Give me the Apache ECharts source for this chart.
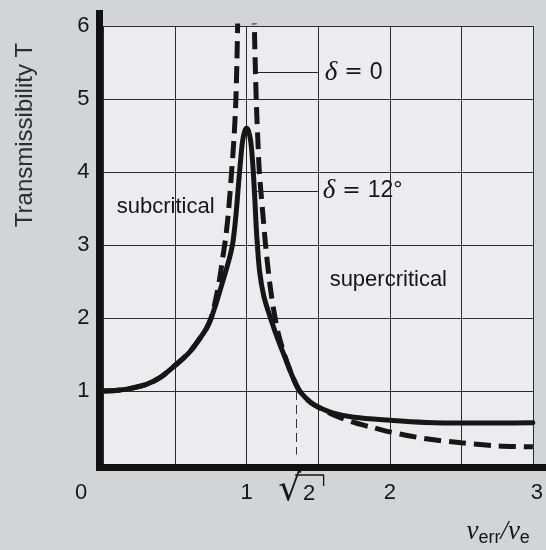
<!DOCTYPE html>
<html>
<head>
<meta charset="utf-8">
<script src="https://cdn.jsdelivr.net/npm/echarts@6/dist/echarts.min.js"></script>
<style>
html, body { margin: 0; padding: 0; background: #d3d4d6; }
#main { width: 546px; height: 550px; }
</style>
</head>
<body>
<div id="main"></div>
<script>
let log = console.log.bind(console)

// 坐标轴
const xMax = 3
const yMax = 6
const xStep = 0.5
const yStep = 1

// δ = 12° (实线)
const solidX = [0, 0.1, 0.2, 0.3, 0.4, 0.5, 0.6, 0.68, 0.72, 0.752, 0.79, 0.836, 0.88, 0.905, 0.925, 0.942, 0.955, 0.97, 0.985, 1.0,
    1.015, 1.03, 1.045, 1.058, 1.07, 1.09, 1.12, 1.17, 1.22, 1.27, 1.32, 1.364, 1.41, 1.45, 1.5, 1.6, 1.75, 2.0, 2.25, 2.5, 2.75, 3.0]
const solidT = [1.0, 1.01, 1.04, 1.09, 1.19, 1.35, 1.53, 1.74, 1.86, 2.0, 2.22, 2.52, 2.82, 3.05, 3.4, 3.8, 4.1, 4.4, 4.55, 4.6,
    4.55, 4.4, 4.05, 3.6, 3.15, 2.65, 2.3, 1.98, 1.7, 1.45, 1.2, 1.02, 0.91, 0.84, 0.78, 0.7, 0.64, 0.6, 0.57, 0.56, 0.56, 0.565]

// δ = 0 (虚线), 左右两支
const dashLeftX = [0, 0.1, 0.2, 0.3, 0.4, 0.5, 0.6, 0.68, 0.72, 0.752, 0.78, 0.81, 0.835, 0.855, 0.875, 0.895, 0.913, 0.925, 0.932, 0.937, 0.941]
const dashLeftT = [1.0, 1.01, 1.04, 1.09, 1.19, 1.35, 1.53, 1.74, 1.86, 2.0, 2.22, 2.52, 2.85, 3.12, 3.5, 4.0, 4.5, 5.0, 5.5, 6.0, 6.6]
const dashRightX = [1.05, 1.054, 1.06, 1.067, 1.077, 1.089, 1.11, 1.13, 1.16, 1.19, 1.22, 1.26, 1.31, 1.364, 1.41, 1.45, 1.5, 1.6, 1.73, 1.88, 2.0, 2.24, 2.5, 2.74, 3.0]
const dashRightT = [6.6, 6.0, 5.5, 5.0, 4.5, 4.0, 3.5, 3.05, 2.5, 2.1, 1.8, 1.52, 1.25, 1.02, 0.91, 0.84, 0.78, 0.68, 0.58, 0.5, 0.44, 0.35, 0.29, 0.25, 0.235]

// 标注
const sqrt2X = 1.35
const sqrt2T = [1, 0.13]
const rootBar = [[1.339, -0.151], [1.538, -0.151], [1.538, -0.3]]
const leaderZero = [[1.063, 5.36], [1.497, 5.36]]
const leaderTwelve = [[1.056, 3.74], [1.497, 3.74]]
const regionNames = ['subcritical', 'supercritical']
const regionPos = [[0.434, 3.52], [1.99, 2.52]]

let zip = function(xs, ys) {
    return xs.map((x, i) => [x, ys[i]])
}

let ink = '#161616'
let sans = 'Liberation Sans'
let deltaRich = {
    d: { fontFamily: 'Liberation Serif', fontStyle: 'italic', fontSize: 27, color: ink },
    e: { fontFamily: 'DejaVu Sans', fontSize: 22, color: ink },
    t: { fontFamily: sans, fontSize: 23, color: ink },
}

let myChart = echarts.init(document.getElementById('main'))

let option = {
    backgroundColor: '#d3d4d6',
    animation: false,
    grid: {
        left: 103.5, right: 7.5, top: 26, bottom: 86,
        show: true, backgroundColor: '#ececee', borderWidth: 0,
    },
    xAxis: {
        type: 'value', min: 0, max: xMax, interval: xStep,
        axisLine: { show: false },
        axisTick: { show: false },
        splitLine: { show: true, lineStyle: { color: '#2b2b2b', width: 1 } },
        axisLabel: {
            margin: 18, fontSize: 22, color: ink, fontFamily: sans,
            formatter: function(v) {
                if (v === 0) return '{z|0}'
                if (v === 3) return '{w|3}'
                if (v % 1 === 0) return String(v)
                return ''
            },
            rich: {
                z: { fontSize: 22, fontFamily: sans, color: ink, padding: [0, 45, 0, 0] },
                w: { fontSize: 22, fontFamily: sans, color: ink, padding: [0, 0, 0, 8] },
            },
        },
        name: '{v|ν}{s|err}{v|/ν}{s|e}',
        nameLocation: 'end',
        nameGap: -3,
        nameTextStyle: {
            align: 'right', verticalAlign: 'middle', padding: [136, 0, 0, 0],
            rich: {
                v: { fontFamily: 'Liberation Serif', fontStyle: 'italic', fontSize: 27, color: ink },
                s: { fontFamily: sans, fontSize: 18, color: ink, padding: [12, 0, 0, 0] },
            },
        },
    },
    yAxis: {
        type: 'value', min: 0, max: yMax, interval: yStep,
        axisLine: { show: false },
        axisTick: { show: false },
        splitLine: { show: true, lineStyle: { color: '#2b2b2b', width: 1 } },
        axisLabel: {
            margin: 14, fontSize: 22, color: ink, fontFamily: sans,
            formatter: v => v === 0 ? '' : String(v),
        },
        name: 'Transmissibility T',
        nameLocation: 'middle',
        nameRotate: 90,
        nameGap: 66,
        nameTextStyle: { fontSize: 24, color: '#2e2e2e', fontFamily: sans, padding: [0, 0, 0, 220] },
    },
    series: [
        {
            name: 'δ = 12°',
            type: 'line',
            data: zip(solidX, solidT),
            smooth: 0.3,
            showSymbol: false,
            lineStyle: { color: ink, width: 5, cap: 'round', join: 'round' },
            markLine: {
                silent: true, symbol: 'none',
                lineStyle: { type: 'solid', width: 1.2, color: '#222' },
                label: { show: true, position: 'end', distance: 5, formatter: '{d|δ}{e| = }{t|12°}', rich: deltaRich },
                data: [[{ coord: leaderTwelve[0] }, { coord: leaderTwelve[1] }]],
            },
        },
        {
            name: 'δ = 0',
            type: 'line',
            data: zip(dashLeftX, dashLeftT),
            smooth: 0.3,
            showSymbol: false,
            lineStyle: { color: ink, width: 5, type: [17, 8] },
            markLine: {
                silent: true, symbol: 'none',
                lineStyle: { type: 'solid', width: 1.2, color: '#222' },
                label: { show: true, position: 'end', distance: 7, formatter: '{d|δ}{e| = }{t|0}', rich: deltaRich },
                data: [[{ coord: leaderZero[0] }, { coord: leaderZero[1] }]],
            },
        },
        {
            name: 'δ = 0 right',
            type: 'line',
            data: zip(dashRightX, dashRightT),
            smooth: 0.3,
            showSymbol: false,
            lineStyle: { color: ink, width: 5, type: [17, 8] },
        },
        {
            name: 'notes',
            type: 'line',
            data: [],
            markLine: {
                silent: true, symbol: 'none',
                lineStyle: { type: [9, 5], width: 1, color: '#333' },
                label: {
                    show: true, position: 'end', distance: 18,
                    formatter: '{r|√}{n|2}',
                    rich: {
                        r: { fontFamily: 'DejaVu Sans', fontSize: 36, color: ink },
                        n: { fontFamily: sans, fontSize: 22, color: ink, padding: [6, 0, 0, 2] },
                    },
                },
                data: [[{ coord: [sqrt2X, sqrt2T[0]] }, { coord: [sqrt2X, sqrt2T[1]] }]],
            },
            markPoint: {
                silent: true, symbol: 'circle', symbolSize: 1,
                itemStyle: { color: 'transparent' },
                label: { show: true, position: 'inside', formatter: '{b}', color: ink, fontSize: 22, fontFamily: sans },
                data: regionNames.map((n, i) => ({ name: n, coord: regionPos[i] })),
            },
        },
        {
            // 根号上面的横线
            name: 'root bar',
            type: 'line',
            data: rootBar,
            clip: false,
            showSymbol: false,
            silent: true,
            lineStyle: { color: ink, width: 1.3 },
        },
    ],
}
myChart.setOption(option)

// 粗坐标轴线 (左边向上延伸, 底边延伸到右边)
let p0 = myChart.convertToPixel({ gridIndex: 0 }, [0, 0])
myChart.setOption({
    graphic: [
        { type: 'rect', shape: { x: p0[0] - 7.5, y: 10, width: 7, height: p0[1] + 7 - 10 }, style: { fill: '#111' } },
        { type: 'rect', shape: { x: p0[0] - 7.5, y: p0[1], width: 546 - p0[0] + 7.5, height: 7 }, style: { fill: '#111' } },
    ],
})
</script>
</body>
</html>
